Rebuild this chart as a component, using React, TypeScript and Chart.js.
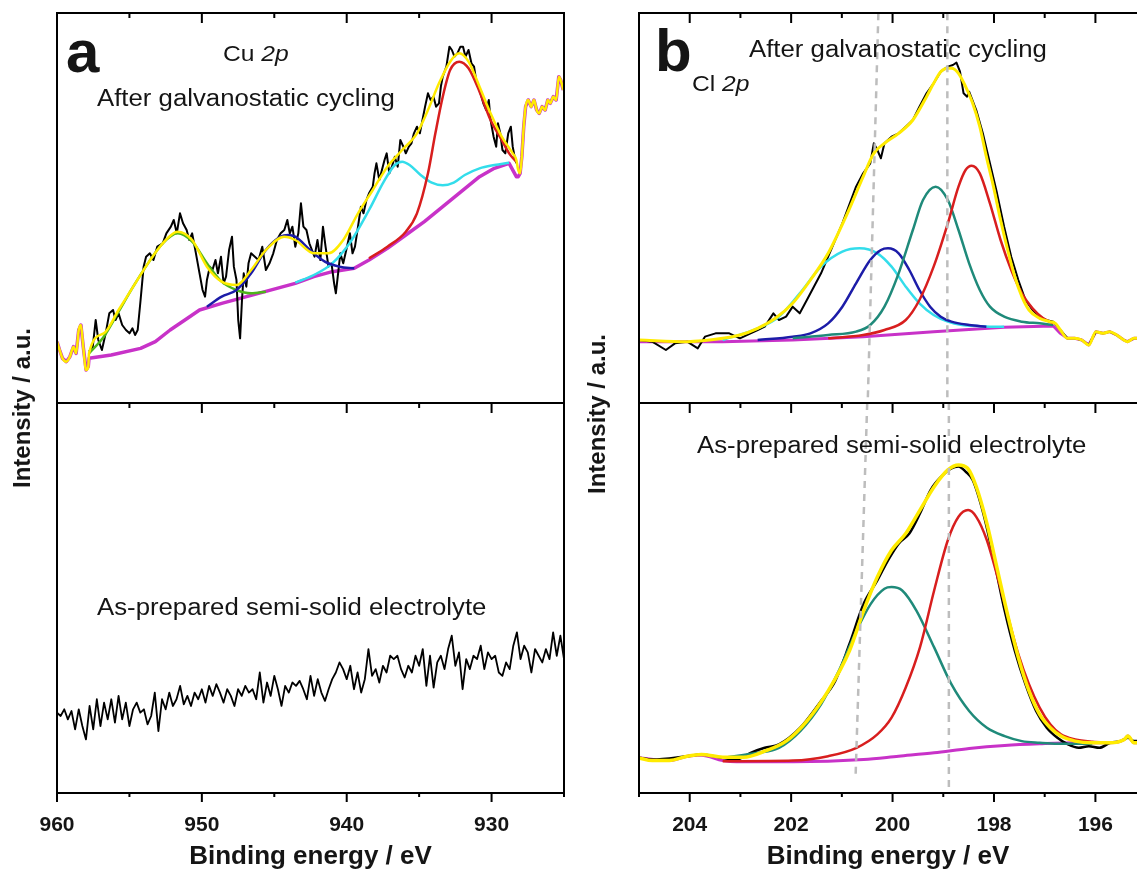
import React, { useEffect, useRef } from 'react';
import { Chart, registerables } from 'chart.js';

Chart.register(...registerables);

const FONT = '"Liberation Sans", Arial, Helvetica, sans-serif';
const TEXT = '#151515';

const C_DATA = '#000000';
const C_BG = '#C832C8';
const C_FIT = '#FFEB00';
const C_RED = '#D81E1E';
const C_BLUE = '#1C1CA8';
const C_CYAN = '#33DDEB';
const C_TEAL = '#1F8A7A';
const C_GREEN = '#4DB51A';
const C_GUIDE = '#BDBDBD';

// ---------------- Panel a : Cu 2p ----------------
const aMajorTicks = [930, 940, 950, 960];
const aMinorTicks = [925, 935, 945, 955];

const aDataEV = [957.79, 957.53, 957.33, 957.15, 956.90, 956.64, 956.39, 956.13, 955.96, 955.75, 955.50, 955.24, 954.99, 954.79, 954.61, 954.43, 954.23, 954.02, 953.85, 953.59, 953.34, 953.08, 952.70, 952.45, 952.14, 951.94, 951.73, 951.51, 951.30, 951.05, 950.87, 950.67, 950.41, 950.16, 949.95, 949.78, 949.65, 949.45, 949.27, 949.06, 948.89, 948.68, 948.50, 948.33, 948.12, 947.92, 947.79, 947.61, 947.49, 947.36, 947.23, 947.11, 946.93, 946.78, 946.60, 946.34, 946.09, 945.83, 945.58, 945.33, 945.07, 944.82, 944.56, 944.31, 944.10, 943.93, 943.75, 943.55, 943.34, 943.16, 942.99, 942.78, 942.58, 942.40, 942.22, 942.02, 941.82, 941.64, 941.46, 941.26, 941.05, 940.87, 940.75, 940.62, 940.44, 940.24, 939.98, 939.78, 939.60, 939.43, 939.22, 939.02, 938.84, 938.64, 938.46, 938.20, 938.08, 937.95, 937.75, 937.57, 937.39, 937.24, 937.06, 936.88, 936.68, 936.48, 936.30, 936.09, 935.92, 935.71, 935.53, 935.36, 935.15, 934.95, 934.77, 934.59, 934.39, 934.21, 934.01, 933.83, 933.63, 933.50, 933.37, 933.12, 932.91, 932.74, 932.56, 932.36, 932.15, 931.97, 931.80, 931.59, 931.39, 931.21, 931.03, 930.83, 930.57, 930.37, 930.19, 930.07, 929.86, 929.68, 929.56, 929.40, 929.25, 929.05, 928.85, 928.67, 928.54, 928.41, 928.29];
const aDataI = [14.5, 16, 24, 18, 15, 20, 26, 27, 24, 26, 22.5, 21, 20, 21.5, 19.5, 21, 30, 40, 43, 44, 42, 46, 47, 50, 52, 54, 50, 56, 53, 51, 48, 50, 44, 38, 33, 31, 36, 40, 39, 42, 38, 43, 35, 37, 45, 49, 40, 36, 24, 18.5, 30, 38, 34, 41, 44, 43, 42, 46, 39, 41, 44, 48, 50, 51, 54, 50, 52, 46, 50, 59, 52, 51, 47, 45, 43, 48, 42, 52, 46, 40, 41, 35, 32, 37, 44, 41, 46, 50, 44, 46, 52, 58, 56, 60, 62, 64, 68, 71, 66, 69, 72, 74, 68, 70, 73, 70, 78, 76, 74, 76, 77, 80, 82, 80, 84, 88, 92, 90, 91, 88, 89, 94, 97, 100, 106, 105, 103, 104, 106, 106, 103, 105, 101, 100, 95, 93, 89, 87, 90, 84, 79, 76, 83, 80, 75, 74, 80, 82, 76, 73, 71];

const aBgEV = [960.00, 959.82, 959.62, 959.36, 959.11, 958.86, 958.68, 958.50, 958.35, 958.19, 957.99, 957.84, 957.79, 956.26, 954.23, 953.21, 952.19, 951.17, 950.16, 948.63, 947.36, 946.09, 944.82, 943.55, 942.27, 941.00, 939.48, 938.46, 937.19, 935.92, 934.64, 933.37, 932.10, 930.83, 929.81, 928.79, 928.29, 928.16, 928.03, 927.91, 927.78, 927.65, 927.47, 927.27, 927.07, 926.89, 926.71, 926.51, 926.30, 926.12, 925.95, 925.74, 925.54, 925.36, 925.23, 925.05];
const aBgI = [17.5, 15, 12.5, 11.5, 13, 16, 14, 21, 22.5, 16, 9, 10, 12.5, 13.5, 15.5, 17.5, 21, 24, 27, 29, 30.5, 32, 33.5, 35, 37, 38.5, 39.5, 42, 45.5, 49.5, 53.5, 58, 62.5, 67, 69.5, 71, 67, 67, 68, 73, 82, 88, 90, 88, 90, 87, 86, 88, 87, 90, 89, 91, 90, 97, 96, 93];

const aFitEV = [960.00, 959.82, 959.62, 959.36, 959.11, 958.86, 958.68, 958.50, 958.35, 958.19, 957.99, 957.84, 957.79, 956.77, 955.75, 954.74, 953.72, 952.70, 951.68, 950.67, 949.65, 948.63, 947.61, 946.60, 945.58, 944.31, 943.55, 942.27, 941.26, 940.24, 939.22, 938.20, 937.19, 936.17, 935.15, 934.39, 933.63, 932.86, 932.23, 931.59, 930.83, 930.07, 929.30, 928.54, 928.29, 928.16, 928.03, 927.91, 927.78, 927.65, 927.47, 927.27, 927.07, 926.89, 926.71, 926.51, 926.30, 926.12, 925.95, 925.74, 925.54, 925.36, 925.23, 925.05];
const aFitI = [17.5, 15, 12.5, 11.5, 13, 16, 14, 21, 22.5, 16, 9, 10, 14, 20, 27, 34, 41, 47, 50.5, 48, 40, 35.5, 34.5, 39, 45, 49, 48, 44, 44, 48, 56, 63, 70, 75, 80, 87, 95, 101.5, 104, 101.5, 94, 86, 79, 74, 72, 69, 68, 73, 82, 88, 90, 88, 90, 87, 86, 88, 87, 90, 89, 91, 90, 97, 96, 93];

const aGreenEV = [957.79, 956.77, 955.75, 954.74, 953.72, 952.70, 951.68, 950.67, 949.65, 948.63, 947.61, 946.60, 945.58];
const aGreenI = [14, 19, 26.5, 34, 41, 47, 50, 47.5, 41, 35.5, 33, 32, 32.5];

const aBlueEV = [949.65, 948.63, 947.61, 946.60, 945.58, 944.56, 944.05, 943.55, 942.53, 941.51, 940.49, 939.48];
const aBlueI = [28, 31, 33, 38, 45, 49, 49.5, 49, 45, 41.5, 40, 39.5];

const aCyanEV = [943.55, 942.27, 941.00, 939.73, 938.46, 937.44, 936.68, 936.17, 935.66, 934.90, 934.13, 933.37, 932.61, 931.85, 930.83, 929.81, 928.79];
const aCyanI = [35.2, 37.5, 41, 47.5, 57, 65.5, 70.5, 71.5, 70.5, 67.5, 65.2, 64.4, 65.2, 67.5, 69.5, 70.5, 71.2];

const aRedEV = [938.46, 937.19, 935.92, 935.15, 934.39, 933.88, 933.37, 932.86, 932.23, 931.59, 930.83, 930.07, 929.30, 928.79, 928.29];
const aRedI = [42.5, 46, 50.5, 56, 68, 80, 91, 99, 101.5, 99.5, 92.5, 84, 78, 74, 71.5];

const aLowEV = [960, 959.75, 959.5, 959.25, 959, 958.75, 958.5, 958.25, 958, 957.75, 957.5, 957.25, 957, 956.75, 956.5, 956.25, 956, 955.75, 955.5, 955.25, 955, 954.75, 954.5, 954.25, 954, 953.75, 953.5, 953.25, 953, 952.75, 952.5, 952.25, 952, 951.75, 951.5, 951.25, 951, 950.75, 950.5, 950.25, 950, 949.75, 949.5, 949.25, 949, 948.75, 948.5, 948.25, 948, 947.75, 947.5, 947.25, 947, 946.75, 946.5, 946.25, 946, 945.75, 945.5, 945.25, 945, 944.75, 944.5, 944.25, 944, 943.75, 943.5, 943.25, 943, 942.75, 942.5, 942.25, 942, 941.75, 941.5, 941.25, 941, 940.75, 940.5, 940.25, 940, 939.75, 939.5, 939.25, 939, 938.75, 938.5, 938.25, 938, 937.75, 937.5, 937.25, 937, 936.75, 936.5, 936.25, 936, 935.75, 935.5, 935.25, 935, 934.75, 934.5, 934.25, 934, 933.75, 933.5, 933.25, 933, 932.75, 932.5, 932.25, 932, 931.75, 931.5, 931.25, 931, 930.75, 930.5, 930.25, 930, 929.75, 929.5, 929.25, 929, 928.75, 928.5, 928.25, 928, 927.75, 927.5, 927.25, 927, 926.75, 926.5, 926.25, 926, 925.75, 925.5, 925.25, 925];
const aLowI = [24, 23, 25, 22, 24.5, 19, 25, 20, 16, 26,
  19, 28, 20, 27, 22, 28, 21, 29, 22, 27,
  20, 25, 27, 24, 25, 20.5, 23, 30, 18.5, 28,
  25, 30, 26, 28, 32, 26.5, 29, 26, 30, 28,
  31, 27, 32, 29, 32.5, 30, 27, 31, 29, 26,
  31, 29, 32, 30, 31, 28, 36, 27, 33, 29,
  35, 31, 26, 32, 30, 33, 32, 33.5, 31, 28,
  35, 29, 34, 30, 27.5, 31, 34, 36, 39, 37,
  34, 38, 31, 36, 30, 34, 43, 35, 37, 33,
  38, 36, 41, 40, 41, 37, 34.5, 38, 36, 41,
  38, 43, 32, 41, 31.5, 39, 41, 37, 43, 47,
  38, 42, 31, 40, 37, 41, 40, 44, 37, 42,
  40, 41, 36, 35, 39, 37, 44, 48, 40, 44,
  42, 36, 43, 41, 39, 43, 40, 48, 41, 47,
  40];

// ---------------- Panel b : Cl 2p ----------------
const bMajorTicks = [196, 198, 200, 202, 204];
const bMinorTicks = [197, 199, 201, 203, 205];

const bDataEV = [205.00, 204.74, 204.47, 204.29, 204.05, 203.84, 203.70, 203.49, 203.22, 203.01, 202.80, 202.66, 202.52, 202.35, 202.24, 202.10, 201.97, 201.83, 201.69, 201.41, 201.27, 200.99, 200.72, 200.58, 200.44, 200.37, 200.30, 200.23, 200.16, 200.02, 199.88, 199.74, 199.60, 199.47, 199.33, 199.19, 199.05, 198.91, 198.81, 198.74, 198.67, 198.60, 198.53, 198.49, 198.35, 198.22, 198.08, 197.94, 197.80, 197.66, 197.52, 197.38, 197.24, 197.10, 196.97, 196.83, 196.69, 196.55, 196.41, 196.27, 196.13, 195.99, 195.85, 195.72, 195.58, 195.44, 195.37, 195.24, 195.10];
const bDataI = [18, 17.5, 15, 17, 17.5, 15.5, 19, 20, 20, 18.5, 20, 21, 22, 26, 24, 25, 28, 26, 30, 38, 43, 53, 64, 68, 71, 77, 75, 72.5, 77, 79, 80, 82, 84, 88, 92, 95, 98.5, 100, 100.5, 101.2, 98.5, 92, 91, 92.5, 87, 80, 71, 62, 52, 43, 36, 30, 27, 25, 24, 23.5, 21, 18.5, 18.5, 18, 16.5, 20.5, 20, 20.5, 19.5, 18, 17.5, 18.5, 18.5];

const bFitEV = [205.00, 204.05, 203.35, 203.01, 202.66, 202.31, 201.97, 201.62, 201.27, 200.92, 200.58, 200.37, 200.16, 199.88, 199.60, 199.33, 199.19, 199.05, 198.91, 198.84, 198.70, 198.56, 198.42, 198.28, 198.15, 198.01, 197.87, 197.73, 197.59, 197.45, 197.31, 197.10, 196.90, 196.79, 196.69, 196.55, 196.41, 196.27, 196.13, 195.99, 195.85, 195.72, 195.58, 195.44, 195.37, 195.24, 195.10];
const bFitI = [18, 17.5, 18.5, 19.5, 21.5, 24.5, 29, 36, 44, 55, 67, 74, 77, 80, 84, 91, 95, 98.5, 99.5, 99.5, 98, 94, 89, 82, 73, 64, 54, 45, 37, 31, 27, 24.5, 23.5, 23, 21, 18.5, 18.5, 18, 16.5, 20.5, 20, 20.5, 19.5, 18, 17.5, 18.5, 18.5];

const bCyanEV = [203.35, 202.66, 202.24, 201.83, 201.41, 200.99, 200.65, 200.30, 200.02, 199.74, 199.47, 199.19, 198.91, 198.63, 198.35, 198.08, 197.80];
const bCyanI = [18, 21.5, 25, 32, 40, 44.5, 45.5, 44, 40, 34, 29, 25.5, 23.5, 22.5, 22.2, 22, 22];

const bBlueEV = [202.66, 201.97, 201.62, 201.27, 200.99, 200.72, 200.44, 200.23, 200.09, 199.88, 199.67, 199.47, 199.26, 199.05, 198.84, 198.49, 198.15];
const bBlueI = [18, 19, 20, 23, 28, 35, 42, 45, 45.5, 44, 39, 33, 28, 25, 23.5, 22.5, 22];

const bTealEV = [201.97, 201.27, 200.72, 200.44, 200.16, 199.88, 199.60, 199.40, 199.15, 198.91, 198.70, 198.49, 198.28, 198.08, 197.80, 197.45, 197.10, 196.83];
const bTealI = [18.5, 19.5, 20.5, 22.5, 28, 38, 51, 60, 64, 60, 51, 41, 33, 28, 25, 23.5, 23, 22.5];

const bRedEV = [201.27, 200.58, 200.16, 199.74, 199.47, 199.19, 198.91, 198.70, 198.56, 198.44, 198.28, 198.08, 197.87, 197.66, 197.45, 197.24, 197.03, 196.83];
const bRedI = [18.5, 19.5, 21, 24, 30, 40, 53, 64, 69, 70.3, 68, 59, 48, 39, 32, 27.5, 24.5, 23];

const bBgEV = [205.00, 203.35, 201.97, 200.58, 199.19, 197.80, 196.83, 196.69, 196.55, 196.41, 196.27, 196.13, 195.99, 195.85, 195.72, 195.58, 195.44, 195.37, 195.24, 195.10];
const bBgI = [17.5, 17.5, 18, 19, 20.5, 21.8, 22.2, 20, 18.5, 18.5, 18, 16.5, 20.5, 20, 20.5, 19.5, 18, 17.5, 18.5, 18.5];

const bLowDataEV = [205.00, 204.74, 204.05, 203.77, 203.35, 203.08, 202.80, 202.52, 202.24, 201.82, 201.41, 201.13, 200.85, 200.57, 200.30, 200.09, 199.88, 199.67, 199.46, 199.25, 199.04, 198.84, 198.70, 198.56, 198.42, 198.21, 198.00, 197.79, 197.59, 197.38, 197.17, 196.96, 196.75, 196.54, 196.33, 196.13, 195.92, 195.71, 195.50, 195.36, 195.24, 195.10];
const bLowDataI = [10.5, 10, 11, 11.5, 10.5, 10, 12, 13.5, 14.5, 19.5, 27.5, 33.5, 44.5, 56.5, 63.5, 69.5, 74.5, 77.5, 83.5, 90.5, 94.5, 97, 97.5, 96, 93.5, 83.5, 69.5, 54.5, 42.5, 32.5, 24.5, 19.5, 16.5, 14.5, 13.5, 14, 13.5, 15, 15.5, 16.5, 15.5, 15.5];

const bLowFitEV = [205.00, 204.74, 204.40, 204.05, 203.77, 203.35, 202.94, 202.52, 202.10, 201.69, 201.27, 200.85, 200.57, 200.30, 200.02, 199.74, 199.46, 199.18, 198.91, 198.70, 198.52, 198.35, 198.14, 197.93, 197.72, 197.52, 197.31, 197.10, 196.89, 196.68, 196.40, 196.06, 195.71, 195.43, 195.36, 195.24, 195.10];
const bLowFitI = [10.5, 9.7, 9.7, 11, 11.5, 10.7, 10.7, 12.5, 15.5, 21.5, 30.5, 42.5, 54.5, 64.5, 72.5, 77.5, 84.5, 91.5, 96.5, 98, 97, 91.5, 80.5, 66.5, 52.5, 40.5, 30.5, 23.5, 19.5, 17, 15.5, 15, 15, 16, 17, 15, 15];

const bLowTealEV = [203.35, 202.66, 202.24, 201.82, 201.41, 201.06, 200.71, 200.43, 200.16, 200.02, 199.81, 199.53, 199.18, 198.84, 198.49, 198.14, 197.79, 197.45, 197.10, 196.75, 196.40, 196.06];
const bLowTealI = [10.5, 12, 13.5, 18.5, 26.5, 36.5, 48.5, 56.5, 61, 61.5, 60.5, 54.5, 43.5, 32.5, 24.5, 19.5, 17, 15.5, 15, 14.7, 14.7, 14.7];

const bLowRedEV = [203.35, 201.96, 201.27, 200.71, 200.30, 200.02, 199.74, 199.46, 199.18, 198.91, 198.70, 198.51, 198.35, 198.14, 197.93, 197.72, 197.52, 197.31, 197.10, 196.89, 196.68, 196.40, 196.06, 195.71];
const bLowRedI = [9.5, 9.7, 11, 13.5, 17.5, 22.5, 31.5, 43.5, 60.5, 75.5, 82.5, 84.5, 82.5, 75.5, 64.5, 52.5, 41.5, 32.5, 25.5, 20.5, 17.5, 16, 15.3, 15];

const bLowBgEV = [205.00, 204.40, 204.05, 203.77, 203.35, 203.08, 201.96, 200.57, 199.88, 199.18, 198.49, 197.79, 197.10, 196.40, 195.71, 195.43, 195.36, 195.24, 195.10];
const bLowBgI = [10.5, 9.7, 11, 11.3, 9.7, 9.3, 9.3, 10, 11, 12, 13.3, 14.2, 14.7, 15, 15, 16, 17, 15, 15];

// dashed guide lines (binding energy at top and bottom of each sub-panel)
const bGuideLeftTopEV = [200.28, 200.49];
const bGuideLeftTopI = [116, -0.9];
const bGuideRightTopEV = [198.92, 198.92];
const bGuideRightTopI = [116, -0.9];
const bGuideLeftLowEV = [200.50, 200.73];
const bGuideLeftLowI = [116.5, 4.5];
const bGuideRightLowEV = [198.89, 198.89];
const bGuideRightLowI = [116.5, -2];

const Y_TOP: [number, number] = [-0.9, 116.1];
const Y_LOW: [number, number] = [0, 116.5];

function line(xs: number[], ys: number[], color: string, width: number, yAxisID: string, smooth = false, extra: any = {}) {
  return {
    data: xs.map((x, i) => ({ x, y: ys[i] })),
    borderColor: color,
    backgroundColor: color,
    borderWidth: width,
    pointRadius: 0,
    pointHoverRadius: 0,
    pointHitRadius: 0,
    fill: false,
    tension: 0,
    cubicInterpolationMode: smooth ? 'monotone' : 'default',
    borderJoinStyle: 'round',
    borderCapStyle: 'butt',
    xAxisID: 'x',
    yAxisID,
    ...extra,
  };
}

const framePlugin = {
  id: 'xpsFrame',
  afterDraw(chart: any, _args: any, opts: any) {
    const { ctx, chartArea: ca, scales } = chart;
    const sx = scales.x;
    const mid = scales.yT.bottom;
    ctx.save();
    ctx.strokeStyle = '#000';
    ctx.lineWidth = 2;
    ctx.beginPath();
    ctx.moveTo(ca.left - 1, ca.top);
    ctx.lineTo(ca.right + (opts.rightBorder ? 1 : 0), ca.top);
    ctx.moveTo(ca.left - 1, mid);
    ctx.lineTo(ca.right + (opts.rightBorder ? 1 : 0), mid);
    ctx.moveTo(ca.left - 1, ca.bottom);
    ctx.lineTo(ca.right + (opts.rightBorder ? 1 : 0), ca.bottom);
    ctx.moveTo(ca.left, ca.top);
    ctx.lineTo(ca.left, ca.bottom);
    if (opts.rightBorder) {
      ctx.moveTo(ca.right, ca.top);
      ctx.lineTo(ca.right, ca.bottom);
    }
    ctx.stroke();
    const drawTicks = (vals: number[], outLen: number, inLen: number) => {
      for (const v of vals) {
        const px = sx.getPixelForValue(v);
        if (px < ca.left - 1 || px > ca.right + 1) continue;
        ctx.moveTo(px, ca.bottom);
        ctx.lineTo(px, ca.bottom + outLen);
        ctx.moveTo(px, ca.top);
        ctx.lineTo(px, ca.top + inLen);
        ctx.moveTo(px, mid);
        ctx.lineTo(px, mid + inLen);
      }
    };
    ctx.beginPath();
    drawTicks(opts.majors, 9, 10);
    drawTicks(opts.minors, 4, 5);
    ctx.stroke();
    ctx.restore();
  },
};

function makeConfig(datasets: any[], xmin: number, xmax: number, step: number, padLeft: number, padRight: number, majors: number[], minors: number[], rightBorder: boolean) {
  const hidden = (range: [number, number]) => ({
    type: 'linear',
    position: 'left',
    stack: 'panel',
    stackWeight: 1,
    min: range[0],
    max: range[1],
    afterFit: (s: any) => { s.width = 0; },
    ticks: { display: false },
    grid: { display: false },
    border: { display: false },
  });
  return {
    type: 'line',
    data: { datasets },
    plugins: [framePlugin],
    options: {
      animation: false,
      responsive: false,
      maintainAspectRatio: false,
      events: [],
      layout: { padding: { left: padLeft, right: padRight, top: 13, bottom: 0 } },
      plugins: {
        legend: { display: false },
        tooltip: { enabled: false },
        xpsFrame: { majors, minors, rightBorder },
      },
      scales: {
        x: {
          type: 'linear',
          position: 'bottom',
          reverse: true,
          min: xmin,
          max: xmax,
          afterFit: (s: any) => { s.height = 79; },
          grid: { display: false },
          border: { display: false },
          ticks: {
            stepSize: step,
            includeBounds: false,
            autoSkip: false,
            maxRotation: 0,
            padding: 12,
            color: TEXT,
            font: { family: FONT, size: 21, weight: 'bold' },
          },
          title: {
            display: true,
            text: 'Binding energy / eV',
            color: TEXT,
            padding: 0,
            font: { family: FONT, size: 26, weight: 'bold' },
          },
        },
        yB: hidden(Y_LOW),
        yT: hidden(Y_TOP),
      },
    },
  };
}

function panelAConfig() {
  const ds = [
    line(aFitEV, aFitI, C_FIT, 2.5, 'yT', true),
    line(aRedEV, aRedI, C_RED, 2.5, 'yT', true),
    line(aBlueEV, aBlueI, C_BLUE, 2.5, 'yT', true),
    line(aCyanEV, aCyanI, C_CYAN, 2.5, 'yT', true),
    line(aGreenEV, aGreenI, C_GREEN, 2.5, 'yT', true),
    line(aDataEV, aDataI, C_DATA, 2, 'yT'),
    line(aBgEV, aBgI, C_BG, 3.5, 'yT', false),
    line(aLowEV, aLowI, C_DATA, 1.8, 'yB'),
  ];
  return makeConfig(ds, 925, 960, 10, 57, 16, aMajorTicks, aMinorTicks, true);
}

function panelBConfig() {
  const dash = { borderDash: [7, 6] };
  const ds = [
    line(bGuideLeftTopEV, bGuideLeftTopI, C_GUIDE, 2.5, 'yT', false, dash),
    line(bGuideRightTopEV, bGuideRightTopI, C_GUIDE, 2.5, 'yT', false, dash),
    line(bGuideLeftLowEV, bGuideLeftLowI, C_GUIDE, 2.5, 'yB', false, dash),
    line(bGuideRightLowEV, bGuideRightLowI, C_GUIDE, 2.5, 'yB', false, dash),
    line(bFitEV, bFitI, C_FIT, 3, 'yT', true),
    line(bRedEV, bRedI, C_RED, 2.5, 'yT', true),
    line(bTealEV, bTealI, C_TEAL, 2.5, 'yT', true),
    line(bBlueEV, bBlueI, C_BLUE, 2.5, 'yT', true),
    line(bCyanEV, bCyanI, C_CYAN, 2.5, 'yT', true),
    line(bDataEV, bDataI, C_DATA, 2, 'yT'),
    line(bBgEV, bBgI, C_BG, 3, 'yT'),
    line(bLowFitEV, bLowFitI, C_FIT, 3.5, 'yB', true),
    line(bLowRedEV, bLowRedI, C_RED, 2.5, 'yB', true),
    line(bLowTealEV, bLowTealI, C_TEAL, 2.5, 'yB', true),
    line(bLowDataEV, bLowDataI, C_DATA, 2.5, 'yB', true),
    line(bLowBgEV, bLowBgI, C_BG, 3, 'yB', true),
  ];
  return makeConfig(ds, 195.18, 205, 2, 59, 0, bMajorTicks, bMinorTicks, false);
}

function Label(props: { left: number; top: number; size: number; bold?: boolean; sx?: number; children: any }) {
  const { left, top, size, bold, sx = 1.12, children } = props;
  return (
    <div
      style={{
        position: 'absolute',
        left,
        top,
        fontFamily: FONT,
        fontSize: size,
        fontWeight: bold ? 'bold' : 'normal',
        lineHeight: 1,
        whiteSpace: 'nowrap',
        color: TEXT,
        transform: `scaleX(${sx})`,
        transformOrigin: 'left top',
      }}
    >
      {children}
    </div>
  );
}

function YTitle(props: { cx: number; cy: number }) {
  return (
    <div
      style={{
        position: 'absolute',
        left: props.cx,
        top: props.cy,
        fontFamily: FONT,
        fontSize: 24,
        fontWeight: 'bold',
        lineHeight: 1,
        whiteSpace: 'nowrap',
        color: TEXT,
        transform: 'translate(-50%, -50%) rotate(-90deg)',
      }}
    >
      Intensity / a.u.
    </div>
  );
}

export default function App() {
  const refA = useRef<HTMLCanvasElement>(null);
  const refB = useRef<HTMLCanvasElement>(null);

  useEffect(() => {
    const ca = new Chart(refA.current as HTMLCanvasElement, panelAConfig() as any);
    const cb = new Chart(refB.current as HTMLCanvasElement, panelBConfig() as any);
    return () => {
      ca.destroy();
      cb.destroy();
    };
  }, []);

  return (
    <div style={{ position: 'fixed', left: 0, top: 0, width: 1137, height: 872, background: '#fff', overflow: 'hidden' }}>
      <canvas ref={refA} width={580} height={872} style={{ position: 'absolute', left: 0, top: 0, width: 580, height: 872 }} />
      <canvas ref={refB} width={557} height={872} style={{ position: 'absolute', left: 580, top: 0, width: 557, height: 872 }} />

      <Label left={66} top={22} size={60} bold sx={1}>a</Label>
      <Label left={223} top={43} size={22}>Cu <i>2p</i></Label>
      <Label left={97} top={87} size={23}>After galvanostatic cycling</Label>
      <Label left={97} top={596} size={23}>As-prepared semi-solid electrolyte</Label>
      <YTitle cx={22} cy={408} />

      <Label left={655} top={21} size={60} bold sx={1}>b</Label>
      <Label left={692} top={73} size={22}>Cl <i>2p</i></Label>
      <Label left={749} top={38} size={23}>After galvanostatic cycling</Label>
      <Label left={697} top={434} size={23}>As-prepared semi-solid electrolyte</Label>
      <YTitle cx={597} cy={414} />
    </div>
  );
}
